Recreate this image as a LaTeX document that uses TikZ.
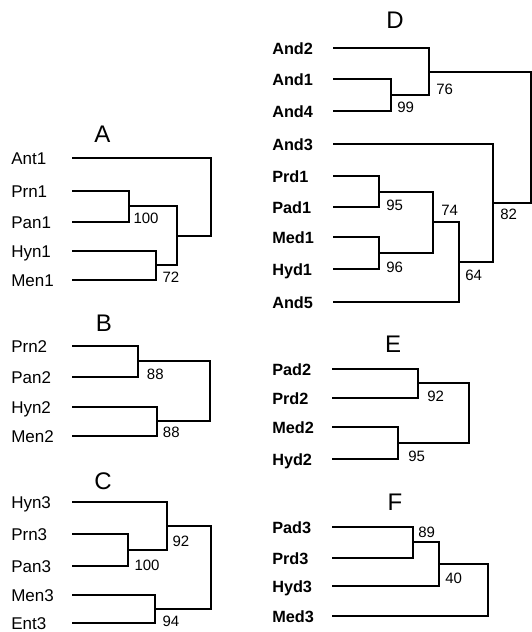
\documentclass[tikz,border=0pt]{standalone}
\usepackage{fontspec}
\setmainfont{Liberation Sans}
\begin{document}
\begin{tikzpicture}[x=0.75pt,y=-0.75pt,
  leaf/.style={anchor=base west,inner sep=0pt,font=\fontsize{12.75}{14}\selectfont},
  bleaf/.style={anchor=base west,inner sep=0pt,font=\fontsize{12.2}{14}\selectfont\bfseries},
  supp/.style={anchor=base west,inner sep=0pt,font=\fontsize{11.25}{13}\selectfont},
  ttl/.style={anchor=base,inner sep=0pt,font=\fontsize{18}{20}\selectfont},
  br/.style={line width=1.5pt}]
\useasboundingbox (0,0) rectangle (532,632);

% ---------- A ----------
\node[ttl] (tA) at (102.5,142) {A};
\foreach \n/\y in {Ant1/158,Prn1/191,Pan1/222,Hyn1/251,Men1/280}{
  \node[leaf] (\n) at (11,\y+6.5) {\n};
  \coordinate (t\n) at (72,\y);
}
\coordinate (jA1) at (129,206);
\coordinate (jA2) at (156,265);
\coordinate (jA3) at (177,236);
\coordinate (jA4) at (211,197);
\draw[br] (tPrn1) -| (jA1) |- (tPan1);
\draw[br] (tHyn1) -| (jA2) |- (tMen1);
\draw[br] (jA1) -| (jA3) |- (jA2);
\draw[br] (tAnt1) -| (jA4) |- (jA3);
\node[supp] (sA1) at (133.3,223.3) {100};
\node[supp] (sA2) at (162.3,282.3) {72};

% ---------- B ----------
\node[ttl] (tB) at (104,331.7) {B};
\foreach \n/\y in {Prn2/346,Pan2/377,Hyn2/407,Men2/436}{
  \node[leaf] (\n) at (11,\y+6.5) {\n};
  \coordinate (t\n) at (72,\y);
}
\coordinate (jB1) at (138,361);
\coordinate (jB2) at (157,421);
\coordinate (jB3) at (210,391);
\draw[br] (tPrn2) -| (jB1) |- (tPan2);
\draw[br] (tHyn2) -| (jB2) |- (tMen2);
\draw[br] (jB1) -| (jB3) |- (jB2);
\node[supp] (sB1) at (146.7,379.3) {88};
\node[supp] (sB2) at (162.7,437.3) {88};

% ---------- C ----------
\node[ttl] (tC) at (103,489) {C};
\foreach \n/\y in {Hyn3/502,Prn3/534,Pan3/566,Men3/595,Ent3/623}{
  \node[leaf] (\n) at (11,\y+6) {\n};
  \coordinate (t\n) at (72,\y);
}
\coordinate (jC1) at (128,550);
\coordinate (jC2) at (167,526);
\coordinate (jC3) at (155,609);
\coordinate (jC4) at (211,568);
\draw[br] (tPrn3) -| (jC1) |- (tPan3);
\draw[br] (tHyn3) -| (jC2) |- (jC1);
\draw[br] (tMen3) -| (jC3) |- (tEnt3);
\draw[br] (jC2) -| (jC4) |- (jC3);
\node[supp] (sC1) at (172.3,546.7) {92};
\node[supp] (sC2) at (134.3,570.7) {100};
\node[supp] (sC3) at (162.3,626.5) {94};

% ---------- D ----------
\node[ttl] (tD) at (395,28) {D};
\foreach \n/\y in {And2/48,And1/79,And4/111,And3/144,Prd1/176,Pad1/207,Med1/237,Hyd1/269,And5/302}{
  \node[bleaf] (\n) at (272,\y+6.5) {\n};
  \coordinate (t\n) at (333,\y);
}
\coordinate (jD1) at (391,95);
\coordinate (jD2) at (429,72);
\coordinate (jD3) at (379,192);
\coordinate (jD4) at (379,253);
\coordinate (jD5) at (433,222);
\coordinate (jD6) at (459,262);
\coordinate (jD7) at (493,203);
\coordinate (jD8) at (531,137);
\draw[br] (tAnd1) -| (jD1) |- (tAnd4);
\draw[br] (tAnd2) -| (jD2) |- (jD1);
\draw[br] (tPrd1) -| (jD3) |- (tPad1);
\draw[br] (tMed1) -| (jD4) |- (tHyd1);
\draw[br] (jD3) -| (jD5) |- (jD4);
\draw[br] (jD5) -| (jD6) |- (tAnd5);
\draw[br] (tAnd3) -| (jD7) |- (jD6);
\draw[br] (jD2) -| (jD8) |- (jD7);
\node[supp] (sD1) at (436,94) {76};
\node[supp] (sD2) at (397,112) {99};
\node[supp] (sD3) at (386,210) {95};
\node[supp] (sD4) at (441,215) {74};
\node[supp] (sD5) at (500,219.3) {82};
\node[supp] (sD6) at (386,272.3) {96};
\node[supp] (sD7) at (465,280) {64};

% ---------- E ----------
\node[ttl] (tE) at (393,352) {E};
\foreach \n/\y in {Pad2/369,Prd2/398,Med2/427,Hyd2/459}{
  \node[bleaf] (\n) at (272,\y+6.5) {\n};
  \coordinate (t\n) at (332,\y);
}
\coordinate (jE1) at (418,383);
\coordinate (jE2) at (398,443);
\coordinate (jE3) at (469,413);
\draw[br] (tPad2) -| (jE1) |- (tPrd2);
\draw[br] (tMed2) -| (jE2) |- (tHyd2);
\draw[br] (jE1) -| (jE3) |- (jE2);
\node[supp] (sE1) at (427,401.7) {92};
\node[supp] (sE2) at (408,461) {95};

% ---------- F ----------
\node[ttl] (tF) at (395,510) {F};
\foreach \n/\y in {Pad3/527,Prd3/558,Hyd3/586,Med3/616}{
  \node[bleaf] (\n) at (272,\y+6.5) {\n};
  \coordinate (t\n) at (332,\y);
}
\coordinate (jF1) at (413,542);
\coordinate (jF2) at (439,564);
\coordinate (jF3) at (488,590);
\draw[br] (tPad3) -| (jF1) |- (tPrd3);
\draw[br] (tHyd3) -| (jF2) |- (jF1);
\draw[br] (tMed3) -| (jF3) |- (jF2);
\node[supp] (sF1) at (418,537.7) {89};
\node[supp] (sF2) at (445,583) {40};
\end{tikzpicture}
\end{document}
